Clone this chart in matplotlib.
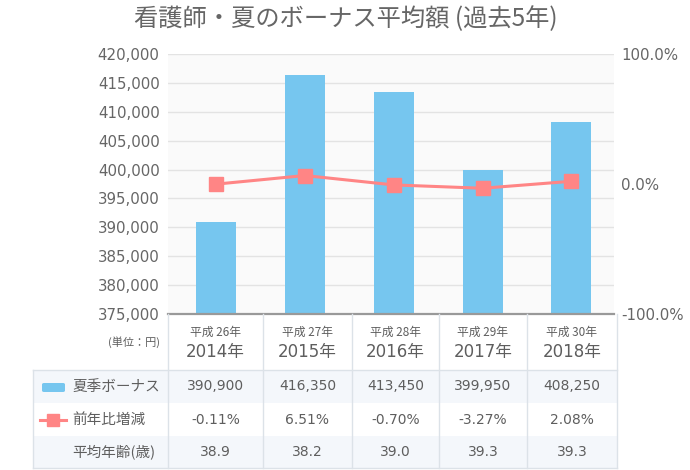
import matplotlib.pyplot as plt
from matplotlib.patches import Rectangle, FancyBboxPatch
from matplotlib.lines import Line2D

plt.rcParams['font.family'] = ['Noto Sans CJK JP', 'DejaVu Sans']
NUM_FONT = ['DejaVu Sans', 'Noto Sans CJK JP']

# データ
years = ["2014年", "2015年", "2016年", "2017年", "2018年"]
heisei = ["平成 26年", "平成 27年", "平成 28年", "平成 29年", "平成 30年"]
bonus = [390900, 416350, 413450, 399950, 408250]
change = [-0.11, 6.51, -0.70, -3.27, 2.08]
age = [38.9, 38.2, 39.0, 39.3, 39.3]
row_labels = ["夏季ボーナス", "前年比増減", "平均年齢(歳)"]

BAR_COLOR = "#76C6EF"
LINE_COLOR = "#FF8585"
TEXT = "#5e5e5e"
GRID = "#E3E3E3"
BORDER = "#DCE2E8"
ROW_BG = "#F4F7FB"

W, H = 690, 470


def fx(x):
    return x / W


def fy(y):
    return 1 - y / H


fig = plt.figure(figsize=(6.9, 4.7), dpi=100)

# グラフ領域
ax = fig.add_axes([fx(168), fy(314), fx(614) - fx(168), fy(54) - fy(314)])
ax.set_facecolor("#FAFAFA")
xs = list(range(len(years)))
ax.bar(xs, bonus, width=0.45, color=BAR_COLOR, zorder=2)
ax.set_xlim(-0.54, 4.48)
ax.set_ylim(375000, 420000)
ticks = list(range(375000, 420001, 5000))
ax.set_yticks(ticks)
ax.set_yticklabels([f"{v:,}" for v in ticks], family=NUM_FONT)
ax.yaxis.grid(True, color=GRID, linewidth=1, zorder=0)
ax.set_xticks([])
ax.tick_params(axis="y", length=0, pad=6, labelsize=10.8, labelcolor="#666666")
for s in ["top", "right", "left"]:
    ax.spines[s].set_visible(False)
ax.spines["bottom"].set_color("#999999")
ax.spines["bottom"].set_linewidth(1.6)
ax.spines["bottom"].set_zorder(5)

ax2 = ax.twinx()
ax2.plot(xs, change, color=LINE_COLOR, linewidth=2.2, marker="s", markersize=9.5,
         zorder=4)
ax2.set_ylim(-100, 100)
ax2.set_yticks([-100, 0, 100])
ax2.set_yticklabels(["-100.0%", "0.0%", "100.0%"], family=NUM_FONT)
ax2.tick_params(axis="y", length=0, pad=5, labelsize=10.8, labelcolor="#666666")
for s in ["top", "right", "left", "bottom"]:
    ax2.spines[s].set_visible(False)

# タイトル
fig.text(fx(346), fy(19), "看護師・夏のボーナス平均額 (過去5年)", ha="center", va="center",
         fontsize=17.5, color="#666666")

# 表
cols = [168, 263, 352, 439, 527, 617]
rows = [314, 370, 403, 436, 468]
left = 33

# 行の背景
for r, bg in enumerate([ROW_BG, "white", ROW_BG]):
    top, bot = rows[r + 1], rows[r + 2]
    fig.patches.append(Rectangle((fx(left), fy(bot)), fx(617) - fx(left), fy(top) - fy(bot),
                                 transform=fig.transFigure, facecolor=bg, edgecolor="none", zorder=0))


# 罫線
def hline(y, x0, x1):
    fig.add_artist(Line2D([fx(x0), fx(x1)], [fy(y), fy(y)], color=BORDER, linewidth=1))


def vline(x, y0, y1):
    fig.add_artist(Line2D([fx(x), fx(x)], [fy(y0), fy(y1)], color=BORDER, linewidth=1))


hline(rows[1], left, 617)
hline(rows[-1], left, 617)
vline(left, rows[1], rows[-1])
for c in cols:
    vline(c, rows[0], rows[-1])

centers = [(a + b) / 2 for a, b in zip(cols[:-1], cols[1:])]

fig.text(fx(160), fy(342), "(単位：円)", ha="right", va="center", fontsize=8, color=TEXT)
for cx, hs, yr in zip(centers, heisei, years):
    fig.text(fx(cx), fy(332), hs, ha="center", va="center", fontsize=8.5, color=TEXT)
    fig.text(fx(cx), fy(352), yr, ha="center", va="center", fontsize=12, color=TEXT,
             family=NUM_FONT)

row_mid = [(a + b) / 2 for a, b in zip(rows[1:-1], rows[2:])]
for ym, lab in zip(row_mid, row_labels):
    fig.text(fx(72), fy(ym), lab, ha="left", va="center", fontsize=10.5, color=TEXT)

# 凡例マーク
fig.patches.append(FancyBboxPatch((fx(42), fy(392)), fx(65) - fx(42), fy(383) - fy(392),
                                  boxstyle="round,pad=0,rounding_size=0.003",
                                  transform=fig.transFigure, facecolor=BAR_COLOR,
                                  edgecolor="none"))
fig.add_artist(Line2D([fx(40), fx(66)], [fy(row_mid[1]), fy(row_mid[1])], color=LINE_COLOR,
                      linewidth=2.2))
fig.add_artist(Line2D([fx(53)], [fy(row_mid[1])], color=LINE_COLOR, marker="s",
                      markersize=8, linestyle="none"))

values = [[f"{v:,}" for v in bonus],
          [f"{v:.2f}%" for v in change],
          [f"{v:.1f}" for v in age]]
for ym, vals in zip(row_mid, values):
    for cx, t in zip(centers, vals):
        fig.text(fx(cx), fy(ym), t, ha="center", va="center", fontsize=10, color=TEXT,
                 family=NUM_FONT)

fig.savefig("out.png", dpi=100, facecolor="white")
